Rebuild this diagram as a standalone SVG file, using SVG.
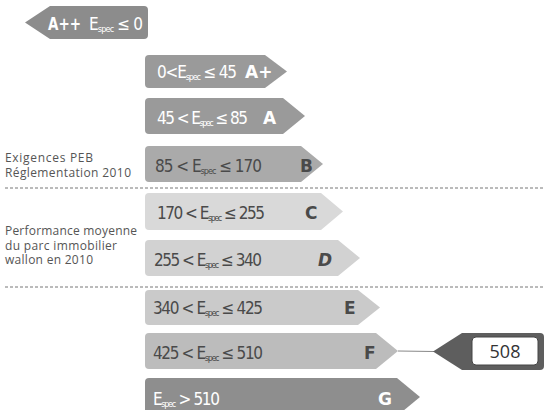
<svg xmlns="http://www.w3.org/2000/svg" width="544" height="410" viewBox="0 0 544 410">
<style>
.rng{font-family:"DejaVu Sans Condensed","DejaVu Sans",sans-serif;font-stretch:condensed;font-size:17px}
.sub{font-size:9px}
.let{font-family:"DejaVu Sans","Liberation Sans",sans-serif;font-weight:bold;font-size:17px}
.w{fill:#ffffff}
.d{fill:#4a4a4a}
.side{font-family:"Open Sans","Noto Sans",sans-serif;font-size:12px;fill:#555555}
.dash{stroke:#777777;stroke-width:1;stroke-dasharray:3 2;fill:none}
</style>
<rect width="544" height="410" fill="#ffffff"/>
<g id="app">
<g id="side-labels">
<text class="side" x="5" y="162" textLength="88">Exigences PEB</text>
<text class="side" x="5" y="177" textLength="126">Réglementation 2010</text>
<text class="side" x="5" y="235" textLength="132">Performance moyenne</text>
<text class="side" x="5" y="249.5" textLength="112">du parc immobilier</text>
<text class="side" x="5" y="264" textLength="88">wallon en 2010</text>
</g>
<g id="separators">
<line class="dash" x1="5" y1="188" x2="544" y2="188"/>
<line class="dash" x1="5" y1="287" x2="544" y2="287"/>
</g>
<g id="class-App">
<path d="M145,6 H144 Q148,6 148,10 V35 Q148,39 144,39 H50 L25,22.5 L50,6 Z" fill="#8c8c8c"/>
<text class="let w" x="48" y="30" font-size="16" textLength="33" lengthAdjust="spacingAndGlyphs">A++</text>
<text class="rng w" x="89" y="30" textLength="54">E<tspan class="sub" dy="2">spec</tspan><tspan dy="-2"> ≤ 0</tspan></text>
</g>
<g id="class-Ap">
<path d="M149,55 H265 L287,71.5 L265,88 H149 Q145,88 145,84 V59 Q145,55 149,55 Z" fill="#9a9a9a"/>
<text class="rng w" x="157" y="78" textLength="80">0&lt;E<tspan class="sub" dy="2">spec</tspan><tspan dy="-2"> ≤ 45</tspan></text>
<text class="let w" x="245" y="78">A+</text>
</g>
<g id="class-A">
<path d="M149,98 H283 L305,116 L283,134 H149 Q145,134 145,130 V102 Q145,98 149,98 Z" fill="#9a9a9a"/>
<text class="rng w" x="157" y="124" textLength="91">45 &lt; E<tspan class="sub" dy="2">spec</tspan><tspan dy="-2"> ≤ 85</tspan></text>
<text class="let w" x="263" y="124">A</text>
</g>
<g id="class-B">
<path d="M149,146 H301 L323,164 L301,182 H149 Q145,182 145,178 V150 Q145,146 149,146 Z" fill="#aaaaaa"/>
<text class="rng d" x="155" y="172" textLength="107">85 &lt; E<tspan class="sub" dy="2">spec</tspan><tspan dy="-2"> ≤ 170</tspan></text>
<text class="let d" x="300" y="172">B</text>
</g>
<g id="class-C">
<path d="M149,193 H321 L343,211.5 L321,230 H149 Q145,230 145,226 V197 Q145,193 149,193 Z" fill="#d9d9d9"/>
<text class="rng d" x="157" y="219" textLength="108">170 &lt; E<tspan class="sub" dy="2">spec</tspan><tspan dy="-2"> ≤ 255</tspan></text>
<text class="let d" x="305" y="219">C</text>
</g>
<g id="class-D">
<path d="M149,240 H338 L360,258 L338,276 H149 Q145,276 145,272 V244 Q145,240 149,240 Z" fill="#d2d2d2"/>
<text class="rng d" x="154" y="266" textLength="108">255 &lt; E<tspan class="sub" dy="2">spec</tspan><tspan dy="-2"> ≤ 340</tspan></text>
<text class="let d" x="318" y="266" font-style="italic">D</text>
</g>
<g id="class-E">
<path d="M149,290 H358 L380,307.5 L358,325 H149 Q145,325 145,321 V294 Q145,290 149,290 Z" fill="#cacaca"/>
<text class="rng d" x="153" y="314" textLength="110">340 &lt; E<tspan class="sub" dy="2">spec</tspan><tspan dy="-2"> ≤ 425</tspan></text>
<text class="let d" x="344" y="314">E</text>
</g>
<g id="class-F">
<path d="M149,333 H376 L398,351 L376,369 H149 Q145,369 145,365 V337 Q145,333 149,333 Z" fill="#bcbcbc"/>
<text class="rng d" x="153" y="359" textLength="110">425 &lt; E<tspan class="sub" dy="2">spec</tspan><tspan dy="-2"> ≤ 510</tspan></text>
<text class="let d" x="364" y="359">F</text>
</g>
<g id="class-G">
<path d="M149,378 H397 L420,397 L397,416 H149 Q145,416 145,412 V382 Q145,378 149,378 Z" fill="#8e8e8e"/>
<text class="rng w" x="153" y="405" textLength="67">E<tspan class="sub" dy="2">spec</tspan><tspan dy="-2"> &gt; 510</tspan></text>
<text class="let w" x="378" y="405">G</text>
</g>
<g id="connectors">
<line x1="398" y1="351" x2="434" y2="351.5" stroke="#888888" stroke-width="1"/>
</g>
<g id="marker-508">
<path d="M462,333 H540 Q544,333 544,337 V366 Q544,370 540,370 H462 L433,351.5 Z" fill="#5e5e5e"/>
<rect x="472" y="337" width="66" height="28" rx="4" fill="#ffffff" stroke="#444444" stroke-width="1"/>
<text x="505" y="358" text-anchor="middle" font-family="Open Sans,Noto Sans,sans-serif" font-size="18" fill="#333333">508</text>
</g>
</g>
</svg>
